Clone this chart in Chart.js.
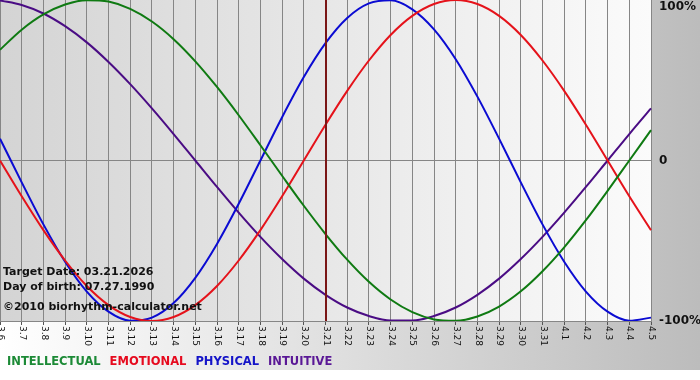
<!DOCTYPE html>
<html>
<head>
<meta charset="utf-8">
<script src="https://cdn.jsdelivr.net/npm/chart.js@4"></script>
<style>
  html, body { margin: 0; padding: 0; background: #ffffff; }
  #wrap { width: 700px; height: 380px; }
</style>
</head>
<body>
<div id="wrap"><canvas id="c" width="700" height="380"></canvas></div>
<script>
// ---- data ----
const dayLabels = ['3.6','3.7','3.8','3.9','3.10','3.11','3.12','3.13','3.14','3.15','3.16','3.17','3.18','3.19','3.20','3.21','3.22','3.23','3.24','3.25','3.26','3.27','3.28','3.29','3.30','3.31','4.1','4.2','4.3','4.4','4.5'];
const intellectual = [69.0, 81.5, 91.0, 97.2, 99.9, 99.0, 94.5, 86.6, 75.6, 61.8, 45.8, 28.2, 9.5, -9.5, -28.2, -45.8, -61.8, -75.6, -86.6, -94.5, -99.0, -99.9, -97.2, -91.0, -81.5, -69.0, -54.1, -37.2, -18.9, 0, 18.9];
const emotional    = [0, -22.3, -43.4, -62.3, -78.2, -90.1, -97.5, -100, -97.5, -90.1, -78.2, -62.3, -43.4, -22.3, 0, 22.3, 43.4, 62.3, 78.2, 90.1, 97.5, 100, 97.5, 90.1, 78.2, 62.3, 43.4, 22.3, 0, -22.3, -43.4];
const physical     = [13.6, -13.6, -39.8, -63.1, -81.7, -94.2, -99.8, -97.9, -88.8, -73.1, -52.0, -27.0, 0, 27.0, 52.0, 73.1, 88.8, 97.9, 99.8, 94.2, 81.7, 63.1, 39.8, 13.6, -13.6, -39.8, -63.1, -81.7, -94.2, -99.8, -97.9];
const intuitive    = [99.7, 96.9, 91.6, 83.7, 73.6, 61.4, 47.6, 32.5, 16.5, 0, -16.5, -32.5, -47.6, -61.4, -73.6, -83.7, -91.6, -96.9, -99.7, -99.7, -96.9, -91.6, -83.7, -73.6, -61.4, -47.6, -32.5, -16.5, 0, 16.5, 32.5];
const seriesNames  = ['INTELLECTUAL', 'EMOTIONAL', 'PHYSICAL', 'INTUITIVE'];
const targetDay    = '3.21';
const yTickValues  = [100, 0, -100];
const yTickLabels  = ['100%', '0', '-100%'];
const infoLines    = ['Target Date: 03.21.2026', 'Day of birth: 07.27.1990', '\u00A92010 biorhythm-calculator.net'];

// ---- styles ----
const lineColors   = ['#0f7a12', '#e5121a', '#0b0bd2', '#4a0c84'];
const legendColors = ['#1c8a36', '#e60a1e', '#1414c8', '#5a1896'];

const decor = {
  id: 'decor',
  beforeDraw(chart) {
    const ctx = chart.ctx, a = chart.chartArea;
    ctx.save();
    const g = ctx.createLinearGradient(0, 0, chart.width, 0);
    g.addColorStop(0, '#ffffff');
    g.addColorStop(1, '#bcbcbc');
    ctx.fillStyle = g;
    ctx.fillRect(0, 0, chart.width, 370);
    ctx.fillStyle = '#ffffff';
    ctx.fillRect(0, 370, chart.width, chart.height - 370);
    const p = ctx.createLinearGradient(a.left, 0, a.right, 0);
    p.addColorStop(0, '#d4d4d4');
    p.addColorStop(1, '#fbfbfb');
    ctx.fillStyle = p;
    ctx.fillRect(a.left, a.top, a.right - a.left, a.bottom - a.top);
    ctx.restore();
  },
  afterDatasetsDraw(chart) {
    const ctx = chart.ctx, a = chart.chartArea;
    const xs = chart.scales.x;
    ctx.save();
    // target day marker
    const mx = Math.round(xs.getPixelForValue(dayLabels.indexOf(targetDay)));
    ctx.strokeStyle = '#7a1616';
    ctx.lineWidth = 2;
    ctx.beginPath();
    ctx.moveTo(mx, a.top);
    ctx.lineTo(mx, a.bottom);
    ctx.stroke();
    // info text
    ctx.fillStyle = '#111111';
    ctx.font = 'bold 11px "DejaVu Sans", Verdana, sans-serif';
    ctx.textBaseline = 'middle';
    ctx.textAlign = 'left';
    const infoY = [272, 287.5, 307.5];
    infoLines.forEach((t, i) => ctx.fillText(t, 3, infoY[i]));
    ctx.restore();
  },
  afterDraw(chart) {
    const ctx = chart.ctx, a = chart.chartArea;
    const xs = chart.scales.x, ys = chart.scales.y;
    ctx.save();
    // x tick labels, rotated clockwise
    ctx.fillStyle = '#111111';
    ctx.font = '9px "DejaVu Sans", Verdana, sans-serif';
    ctx.textAlign = 'left';
    ctx.textBaseline = 'middle';
    dayLabels.forEach((lab, i) => {
      const x = xs.getPixelForValue(i);
      ctx.save();
      ctx.translate(x + 0.5, a.bottom + 5);
      ctx.rotate(Math.PI / 2);
      ctx.fillText(lab, 0, 0);
      ctx.restore();
    });
    // y labels
    ctx.font = 'bold 12px "DejaVu Sans", Verdana, sans-serif';
    yTickValues.forEach((v, i) => {
      let y = ys.getPixelForValue(v);
      if (v === 100) y += 7;
      ctx.fillText(yTickLabels[i], a.right + 8, y);
    });
    // legend
    ctx.font = 'bold 11.5px "DejaVu Sans", Verdana, sans-serif';
    let lx = 7;
    seriesNames.forEach((n, i) => {
      ctx.fillStyle = legendColors[i];
      ctx.fillText(n, lx, 362);
      lx += ctx.measureText(n).width + 9;
    });
    ctx.restore();
  }
};

const seriesData = [intellectual, emotional, physical, intuitive];
new Chart(document.getElementById('c'), {
  type: 'line',
  data: {
    labels: dayLabels,
    datasets: seriesNames.map((n, i) => ({
      label: n,
      data: seriesData[i],
      borderColor: lineColors[i],
      borderWidth: 2,
      pointRadius: 0,
      cubicInterpolationMode: 'monotone',
      fill: false
    }))
  },
  options: {
    responsive: false,
    animation: false,
    devicePixelRatio: 1,
    layout: { padding: 0 },
    plugins: { legend: { display: false }, tooltip: { enabled: false } },
    scales: {
      x: {
        type: 'category',
        offset: false,
        ticks: { display: false, autoSkip: false },
        grid: { color: '#868686', lineWidth: 1, drawTicks: true, tickLength: 4, tickColor: '#555555' },
        border: { display: true, color: '#868686' },
        afterFit(s) { s.height = 59; }
      },
      y: {
        position: 'right',
        min: -100,
        max: 100,
        ticks: { display: false, stepSize: 100 },
        grid: { color: (c) => (c.tick && c.tick.value === 0 ? '#868686' : 'rgba(0,0,0,0)'), drawTicks: false },
        border: { display: false },
        afterFit(s) { s.width = 49; }
      }
    }
  },
  plugins: [decor]
});
</script>
</body>
</html>
